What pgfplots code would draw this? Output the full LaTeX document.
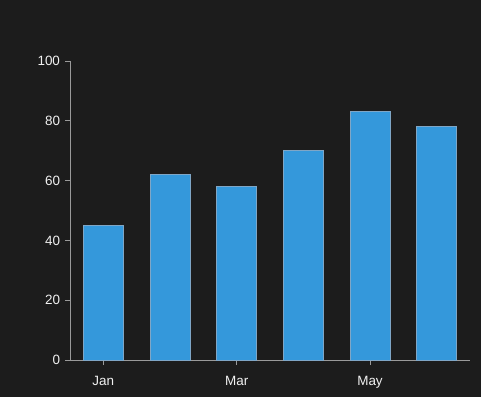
\documentclass[border=0pt]{standalone}
\usepackage{fontspec}
\setmainfont{Liberation Sans}
\usepackage{pgfplots}
\pgfplotsset{compat=1.18}
\definecolor{bgc}{HTML}{1C1C1C}
\definecolor{barc}{HTML}{3498DB}
\definecolor{edgec}{HTML}{7FA6C6}
\definecolor{spinec}{HTML}{9A9A9A}
\definecolor{txtc}{HTML}{F0F0F0}
\begin{document}
\begin{tikzpicture}[x=1bp,y=1bp]
\fill[bgc] (0,0) rectangle (481,397);
\useasboundingbox (0,0) rectangle (481,397);
\begin{axis}[
  at={(70bp,37bp)}, anchor=south west,
  scale only axis, width=400bp, height=299bp,
  xmin=-0.5, xmax=5.5, ymin=0, ymax=100,
  axis x line*=bottom, axis y line*=left,
  axis line style={spinec, line width=0.8pt},
  xtick={0,2,4}, xticklabels={Jan,Mar,May},
  ytick={0,20,40,60,80,100},
  tick align=outside, major tick length=5bp,
  tick style={spinec, line width=0.8pt},
  ticklabel style={font=\fontsize{13.5}{15}\selectfont, text=txtc},
  xticklabel style={yshift=-8bp},
  yticklabel style={xshift=-1.5bp},
  /pgf/number format/assume math mode=true,
  ybar, bar width=0.6,
  bar shift=0pt,
  clip=false,
]
\addplot[fill=barc, draw=edgec, line width=0.7pt] coordinates {(0,45) (1,62) (2,58) (3,70) (4,83) (5,78)};
\end{axis}
\end{tikzpicture}
\end{document}
